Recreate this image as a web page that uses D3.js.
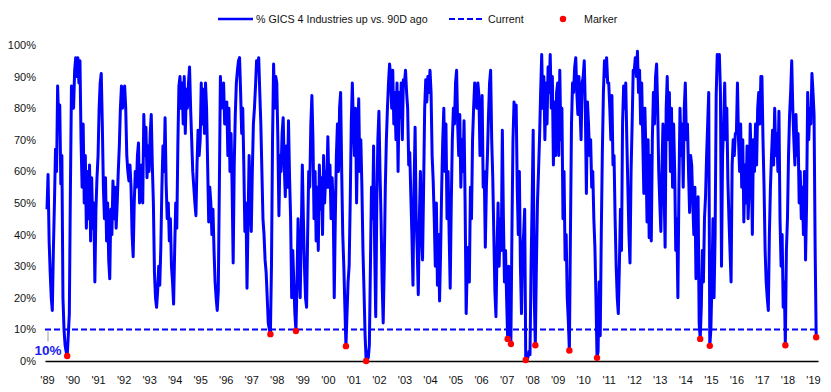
<!DOCTYPE html>
<html><head><meta charset="utf-8">
<script src="https://cdn.jsdelivr.net/npm/d3@7"></script>
<style>
body{margin:0;background:#fff}
svg{display:block}
text{font-family:"Liberation Sans",Arial,sans-serif}
</style>
</head><body>
<svg id="c" width="831" height="392"></svg>
<script>
// Series: % of GICS 4 industries up vs. 90 days ago, semi-monthly readings (24 per year) from Jan 1989
const startYear = 1989, perYear = 24;
const seriesValues = [
/*1989*/ 48,59,38,28,20,16,35,50,67,60,87,75,81,56,65,20,10,5,3,1.6,8,15,54,87,
/*1990*/ 85,80,92,96,90,96,88,95,70,55,75,50,65,42,60,45,62,38,58,42,50,25,48,58,
/*1991*/ 65,80,88,91,75,55,45,58,38,50,32,26,48,40,57,45,55,42,50,60,68,80,87,80,
/*1992*/ 85,87,80,65,60,57,62,55,40,33,50,60,55,65,69,50,55,62,50,78,65,74,58,68,
/*1993*/ 60,72,78,62,50,28,20,17,22,30,24,36,55,68,60,77,56,45,50,38,45,30,25,18,
/*1994*/ 35,50,42,68,87,90,80,88,75,90,72,86,80,88,93,80,70,60,55,50,46,62,73,65,
/*1995*/ 70,88,75,86,72,88,80,62,44,55,50,40,48,35,25,20,16,22,55,90,80,85,88,75,
/*1996*/ 75,82,65,80,60,72,55,31,62,78,88,92,95,96,85,72,80,62,41,50,23,45,65,50,
/*1997*/ 41,60,75,80,87,95,92,96,85,75,60,45,40,32,28,20,12,10,8.5,30,70,94,80,90,
/*1998*/ 88,70,46,65,60,72,77,62,52,68,55,76,58,45,20,35,25,15,9.5,25,45,30,20,40,
/*1999*/ 62,45,30,20,17,40,60,55,75,84,70,45,60,38,55,35,62,48,58,40,65,50,60,55,
/*2000*/ 71,55,62,45,58,50,20,45,65,75,60,80,85,60,40,30,17,4.7,15,25,30,50,75,88,
/*2001*/ 75,65,80,50,70,83,60,70,55,35,22,8,0,3,1,5,30,55,45,68,35,14,50,70,
/*2002*/ 79,60,45,25,12,30,55,70,80,88,94,90,80,92,75,85,70,88,60,85,77,88,70,89,
/*2003*/ 88,92,85,80,62,66,52,40,24,55,74,45,35,21,45,60,40,32,55,80,89,82,90,85,
/*2004*/ 92,85,65,57,45,30,50,24,40,19,35,55,70,80,60,75,45,60,40,23,50,70,80,75,
/*2005*/ 88,92,75,65,78,55,70,60,76,50,15,30,36,25,55,45,70,80,88,85,80,88,84,65,
/*2006*/ 75,84,55,60,36,55,65,78,88,92,70,58,40,22,14,35,50,30,45,35,73,45,25,35,
/*2007*/ 20,7,30,15,5.4,40,70,82,75,81,55,40,60,30,15,35,40,48,0.3,2,1,3,2,30,
/*2008*/ 50,73,20,5,30,50,60,71,85,97,80,90,70,88,75,93,85,97,80,90,62,82,65,85,
/*2009*/ 88,65,92,70,80,45,60,32,40,20,13,3.3,40,75,88,85,93,96,85,78,90,80,70,88,
/*2010*/ 90,95,80,53,82,75,65,70,55,60,45,36,20,1,3,25,8,40,66,85,95,90,96,88,
/*2011*/ 88,80,70,84,62,65,45,30,20,15,30,48,35,75,87,80,88,70,55,40,31,60,75,92,
/*2012*/ 92,96,90,98,85,92,75,88,70,53,80,65,44,70,39,65,38,70,85,75,90,94,80,60,
/*2013*/ 50,41,60,75,55,36,80,90,70,85,60,80,55,75,60,35,45,20,55,80,65,75,55,80,
/*2014*/ 88,70,75,60,47,65,62,50,40,55,26,45,52,12,7,17,35,25,45,52,65,75,85,4.8,
/*2015*/ 10,25,45,20,40,84,97,95,97,85,30,65,75,88,70,80,57,45,35,25,62,70,65,72,
/*2016*/ 72,88,70,60,75,55,70,44,62,50,68,45,55,75,62,40,70,60,75,62,80,85,75,90,
/*2017*/ 90,70,55,35,25,20,16,40,55,65,73,62,80,65,72,60,79,45,30,40,17,25,5,35,
/*2018*/ 45,65,78,85,95,80,70,62,78,65,72,50,60,45,55,40,60,32,50,85,70,80,75,91,
/*2019*/ 85,78,36,7.5
];
const markerDates  = [1989.792,1997.75,1998.75,2000.708,2001.5,2007.042,2007.167,2007.75,2008.125,2009.458,2010.542,2014.583,2014.958,2017.917,2019.125];
const markerValues = [1.6,8.5,9.5,4.7,0,7,5.4,0.3,5,3.3,1,7,4.8,5,7.5];
const currentLevel = 10;
const tickYears = d3.range(1989, 2020);
const yTicks = d3.range(0, 101, 10);
const legendLabels = ["% GICS 4 Industries up vs. 90D ago", "Current", "Marker"];

const BLUE = "#0000ff", RED = "#ff0000";
const svg = d3.select("#c");
const x = d3.scaleLinear().domain([1988.922, 2019.196]).range([45, 818]);
const y = d3.scaleLinear().domain([0, 100]).range([361, 45]);

const data = seriesValues.map((v, i) => ({t: startYear + i / perYear, v}));

// Y axis labels
const ya = svg.append("g").attr("transform", "translate(39,0)")
  .call(d3.axisLeft(y).tickValues(yTicks).tickSize(0).tickPadding(3).tickFormat(d => d + "%"));
ya.select(".domain").remove();
ya.selectAll("text").attr("font-family", "Liberation Sans, Arial, sans-serif").attr("font-size", "11px").attr("fill", "#111");

// X axis
const xa = svg.append("g").attr("transform", `translate(0,${y(0)})`)
  .call(d3.axisBottom(x).tickValues(tickYears).tickSize(0).tickPadding(15)
    .tickFormat(d => "'" + String(d).slice(2)));
xa.select(".domain").attr("stroke", "#000").attr("stroke-width", 1.5);
xa.selectAll("text").attr("font-family", "Liberation Sans, Arial, sans-serif").attr("font-size", "11px").attr("fill", "#111");

// Current dashed line
svg.append("line").attr("x1", 45).attr("x2", 817).attr("y1", y(currentLevel)).attr("y2", y(currentLevel))
  .attr("stroke", BLUE).attr("stroke-width", 2).attr("stroke-dasharray", "6,3");

// Main line
const line = d3.line().x(d => x(d.t)).y(d => y(d.v));
svg.append("path").datum(data).attr("d", line).attr("fill", "none")
  .attr("stroke", BLUE).attr("stroke-width", 3).attr("stroke-linejoin", "round");

// Markers
svg.append("g").selectAll("circle").data(markerDates).join("circle")
  .attr("cx", d => x(d)).attr("cy", (d, i) => y(markerValues[i])).attr("r", 3.2).attr("fill", RED);

// Current level label with leader
svg.append("line").attr("x1", 48).attr("x2", 48).attr("y1", y(currentLevel) + 2).attr("y2", y(currentLevel) + 12)
  .attr("stroke", "#999").attr("stroke-width", 1);
svg.append("text").attr("x", 48).attr("y", 355).attr("text-anchor", "middle")
  .attr("font-size", "13.5px").attr("font-weight", "bold").attr("fill", "#1c1cf0").text(currentLevel + "%");

// Legend
const lg = svg.append("g").attr("font-size", "10.7px").attr("fill", "#111");
lg.append("line").attr("x1", 218).attr("x2", 253).attr("y1", 19).attr("y2", 19).attr("stroke", BLUE).attr("stroke-width", 2.6);
lg.append("text").attr("x", 256).attr("y", 23).text(legendLabels[0]);
lg.append("line").attr("x1", 449).attr("x2", 485).attr("y1", 19).attr("y2", 19).attr("stroke", BLUE).attr("stroke-width", 2).attr("stroke-dasharray", "6,3");
lg.append("text").attr("x", 488).attr("y", 23).text(legendLabels[1]);
lg.append("circle").attr("cx", 563).attr("cy", 19).attr("r", 3.2).attr("fill", RED);
lg.append("text").attr("x", 584).attr("y", 23).text(legendLabels[2]);
</script>
</body></html>
